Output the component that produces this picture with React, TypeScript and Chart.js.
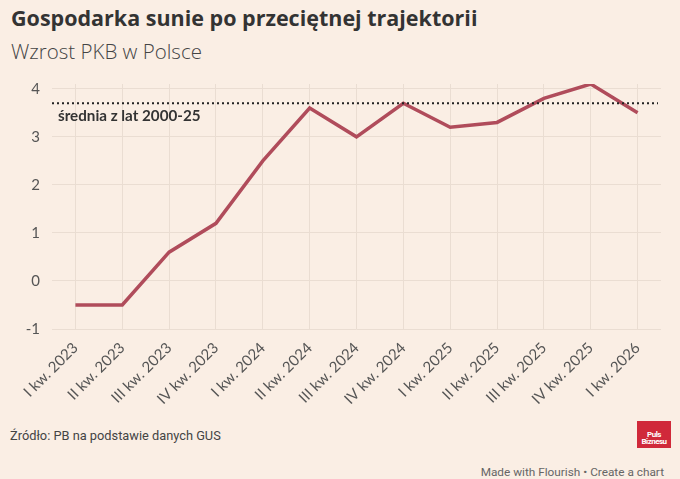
import { useEffect, useRef } from "react"
import { Chart, registerables } from "chart.js"

Chart.register(...registerables)

const quarters = [
  "I kw. 2023",
  "II kw. 2023",
  "III kw. 2023",
  "IV kw. 2023",
  "I kw. 2024",
  "II kw. 2024",
  "III kw. 2024",
  "IV kw. 2024",
  "I kw. 2025",
  "II kw. 2025",
  "III kw. 2025",
  "IV kw. 2025",
  "I kw. 2026",
]
const gdpGrowth = [-0.5, -0.5, 0.6, 1.2, 2.5, 3.6, 3.0, 3.7, 3.2, 3.3, 3.8, 4.1, 3.5]
const yTicks = [-1, 0, 1, 2, 3, 4]
const average = 3.7
const averageLabel = "średnia z lat 2000-25"

const BG = "#faeee4"

// dotted average line across the plot, with its label underneath
const averagePlugin = {
  id: "averageLine",
  afterDatasetsDraw(chart: Chart) {
    const { ctx, chartArea } = chart
    const y = chart.scales.y.getPixelForValue(average)
    ctx.save()
    ctx.strokeStyle = "#222"
    ctx.lineWidth = 2
    ctx.setLineDash([2, 3])
    ctx.beginPath()
    ctx.moveTo(chartArea.left, y)
    ctx.lineTo(chartArea.right - 3, y)
    ctx.stroke()
    ctx.setLineDash([])
    ctx.fillStyle = "#333"
    ctx.font = "bold 15.2px Lato"
    ctx.textBaseline = "top"
    ctx.fillText(averageLabel, chartArea.left + 6, y + 5)
    ctx.restore()
  },
}

function GdpChart() {
  const chartRef = useRef<HTMLCanvasElement>(null)
  const chartInstance = useRef<Chart | null>(null)

  useEffect(() => {
    if (!chartRef.current) return
    const ctx = chartRef.current.getContext("2d")
    if (!ctx) return

    if (chartInstance.current) {
      chartInstance.current.destroy()
    }

    chartInstance.current = new Chart(ctx, {
      type: "line",
      data: {
        labels: quarters,
        datasets: [
          {
            label: "Wzrost PKB",
            data: gdpGrowth,
            borderColor: "#b04c5b",
            borderWidth: 3.5,
            tension: 0,
            pointRadius: 0,
            fill: false,
          },
        ],
      },
      options: {
        animation: false,
        responsive: false,
        maintainAspectRatio: false,
        layout: { padding: { top: 24, right: 19, left: 0, bottom: 0 } },
        plugins: {
          legend: { display: false },
          tooltip: { enabled: false },
        },
        scales: {
          x: {
            offset: true,
            grid: { display: true, offset: false, color: "#eaddd2", drawTicks: false },
            border: { display: false },
            ticks: {
              color: "#555",
              font: { family: "Lato", size: 15 },
              minRotation: 45,
              maxRotation: 45,
              padding: 10,
              autoSkip: false,
            },
            afterFit(scale: any) {
              scale.height = 76
              scale.paddingLeft = 0
              scale.paddingRight = 0
            },
          },
          y: {
            min: -1,
            max: 4.1,
            grid: { color: "#eaddd2", drawTicks: false },
            border: { display: false },
            ticks: {
              color: "#555",
              font: { family: "Lato", size: 15 },
              padding: 12,
            },
            afterBuildTicks(scale: any) {
              scale.ticks = yTicks.map((v) => ({ value: v }))
            },
            afterFit(scale: any) {
              scale.width = 52
            },
          },
        },
      },
      plugins: [averagePlugin],
    })

    return () => {
      if (chartInstance.current) {
        chartInstance.current.destroy()
        chartInstance.current = null
      }
    }
  }, [])

  return <canvas ref={chartRef} width={680} height={345} style={{ display: "block" }} />
}

export default function App() {
  useEffect(() => {
    document.body.style.margin = "0"
  }, [])

  return (
    <div
      style={{
        position: "absolute",
        left: 0,
        top: 0,
        width: 680,
        height: 479,
        background: BG,
        overflow: "hidden",
        fontFamily: "Lato",
      }}
    >
      <div
        style={{
          position: "absolute",
          left: 11,
          top: 3,
          fontSize: 21.5,
          fontWeight: 700,
          color: "#333",
          fontFamily: "Open Sans",
          whiteSpace: "nowrap",
        }}
      >
        Gospodarka sunie po przeciętnej trajektorii
      </div>
      <div
        style={{
          position: "absolute",
          left: 11,
          top: 37,
          fontSize: 20.5,
          fontWeight: 300,
          color: "#444",
          fontFamily: "Open Sans",
          whiteSpace: "nowrap",
        }}
      >
        Wzrost PKB w Polsce
      </div>
      <div style={{ position: "absolute", left: 0, top: 60 }}>
        <GdpChart />
      </div>
      <div style={{ position: "absolute", left: 10, top: 428, fontSize: 12.8, color: "#444", fontFamily: "Roboto" }}>
        Źródło: PB na podstawie danych GUS
      </div>
      <div
        style={{
          position: "absolute",
          left: 637,
          top: 421,
          width: 34,
          height: 27,
          background: "#d0293a",
          color: "#fff",
          fontFamily: "Roboto",
          fontWeight: 700,
          fontSize: 8,
          lineHeight: "7px",
          textAlign: "center",
          display: "flex",
          flexDirection: "column",
          justifyContent: "flex-end",
          paddingBottom: 3,
          boxSizing: "border-box",
          letterSpacing: -0.5,
        }}
      >
        <span>Puls</span>
        <span>Biznesu</span>
      </div>
      <div
        style={{
          position: "absolute",
          right: 16,
          top: 465,
          fontSize: 11.8,
          color: "#666",
          fontFamily: "Roboto",
          whiteSpace: "nowrap",
        }}
      >
        Made with Flourish • Create a chart
      </div>
    </div>
  )
}
